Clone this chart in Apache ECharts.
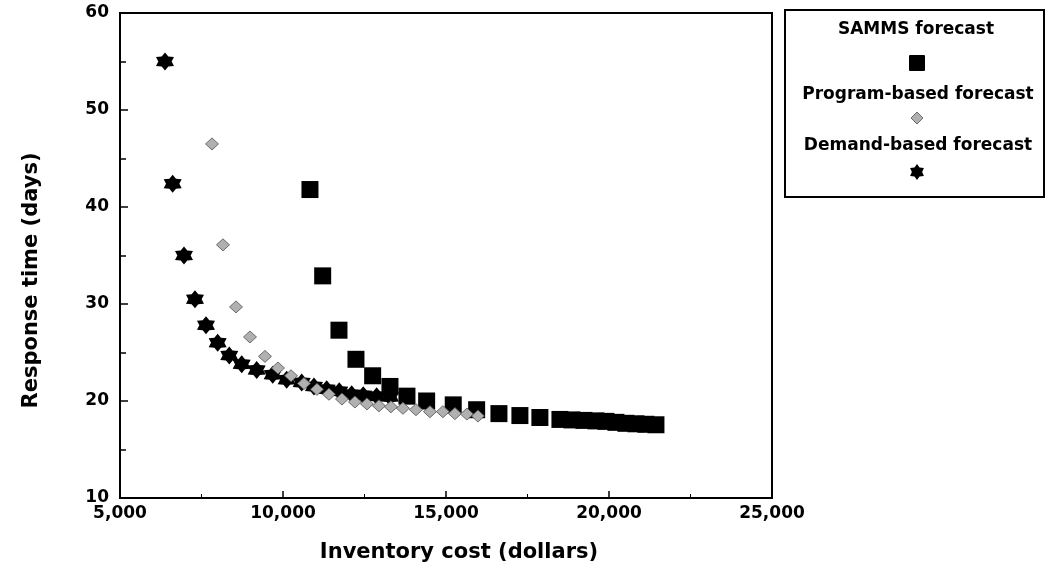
<!DOCTYPE html>
<html>
<head>
<meta charset="utf-8">
<script src="https://cdn.jsdelivr.net/npm/echarts@6/dist/echarts.min.js"></script>
<style>html,body{margin:0;padding:0;background:#fff;}#c{width:1047px;height:577px;}</style>
</head>
<body>
<div id="c"></div>
<script>
// ---- data (inventory cost in dollars, response time in days) ----
var sammsCost = [10827, 11217, 11717, 12238, 12750, 13281, 13802, 14406, 15222, 15940, 16624, 17267, 17880, 18495, 18863, 19231, 19599, 19906, 20212, 20519, 20826, 21133, 21440];
var sammsDays = [41.8, 32.9, 27.3, 24.3, 22.6, 21.5, 20.5, 20.0, 19.6, 19.1, 18.7, 18.5, 18.3, 18.1, 18.05, 18.0, 17.95, 17.9, 17.8, 17.7, 17.65, 17.6, 17.55];
var programCost = [7822, 8159, 8558, 8987, 9447, 9846, 10245, 10643, 11042, 11410, 11809, 12207, 12575, 12943, 13311, 13679, 14078, 14508, 14906, 15274, 15642, 15980];
var programDays = [46.5, 36.1, 29.7, 26.6, 24.6, 23.4, 22.6, 21.8, 21.2, 20.7, 20.2, 19.9, 19.7, 19.5, 19.4, 19.25, 19.1, 18.9, 18.9, 18.7, 18.65, 18.45];
var demandCost = [6380, 6616, 6963, 7300, 7638, 7996, 8352, 8733, 9193, 9684, 10113, 10573, 10950, 11340, 11726, 12106, 12462, 12873, 13280];
var demandDays = [55.0, 42.4, 35.0, 30.5, 27.8, 26.0, 24.7, 23.8, 23.2, 22.7, 22.2, 21.9, 21.5, 21.2, 21.0, 20.7, 20.6, 20.5, 20.4];
var seriesNames = ['SAMMS forecast', 'Program-based forecast', 'Demand-based forecast'];
var xTicks = [5000, 10000, 15000, 20000, 25000];
var yTicks = [10, 20, 30, 40, 50, 60];

function pairs(xs, ys) { return xs.map(function (x, i) { return [x, ys[i]]; }); }
function starPoints(cx, cy, R, ratio) {
  var pts = [];
  for (var k = 0; k < 12; k++) {
    var a = (-90 + 30 * k) * Math.PI / 180;
    var r = (k % 2 === 0) ? R : R * ratio;
    pts.push([cx + r * Math.cos(a), cy + r * Math.sin(a)]);
  }
  return pts;
}
var STAR = 'path://M' + starPoints(0, 0, 10, 0.64).map(function (p) { return p[0].toFixed(3) + ' ' + p[1].toFixed(3); }).join(' L') + ' Z';
var FONT = '"DejaVu Sans", sans-serif';
var diamondStyle = { color: '#b0b0b0', borderColor: '#505050', borderWidth: 0.8, opacity: 1 };

var chart = echarts.init(document.getElementById('c'), null, { renderer: 'canvas' });
chart.setOption({
  backgroundColor: '#fff',
  animation: false,
  grid: { left: 120, right: 275, top: 13, bottom: 79, show: true, borderColor: '#000', borderWidth: 2 },
  xAxis: {
    type: 'value', min: xTicks[0], max: xTicks[xTicks.length - 1], interval: 5000,
    name: 'Inventory cost (dollars)', nameLocation: 'middle', nameGap: 44,
    nameTextStyle: { fontFamily: FONT, fontWeight: 'bold', fontSize: 21, color: '#000', padding: [0, 0, 0, 26] },
    axisLine: { show: true, lineStyle: { color: '#000', width: 2 } },
    axisTick: { show: true, inside: true, length: 7, lineStyle: { color: '#000', width: 1.5 } },
    minorTick: { show: true, splitNumber: 2, length: 4, lineStyle: { color: '#000', width: 1 } },
    splitLine: { show: false },
    axisLabel: { fontFamily: FONT, fontWeight: 'bold', fontSize: 17, color: '#000', margin: 7,
      formatter: function (v) { return v.toLocaleString('en-US'); } }
  },
  yAxis: {
    type: 'value', min: yTicks[0], max: yTicks[yTicks.length - 1], interval: 10,
    name: 'Response time (days)', nameLocation: 'middle', nameGap: 78,
    nameTextStyle: { fontFamily: FONT, fontWeight: 'bold', fontSize: 21, color: '#000', padding: [0, 50, 0, 0] },
    axisLine: { show: true, lineStyle: { color: '#000', width: 2 } },
    axisTick: { show: true, inside: true, length: 8, lineStyle: { color: '#000', width: 1.5 } },
    minorTick: { show: true, splitNumber: 2, length: 6, lineStyle: { color: '#000', width: 1.5 } },
    splitLine: { show: false },
    axisLabel: { fontFamily: FONT, fontWeight: 'bold', fontSize: 17, color: '#000', margin: 11 }
  },
  series: [
    { name: seriesNames[0], type: 'scatter', data: pairs(sammsCost, sammsDays), symbol: 'rect', symbolSize: 17,
      itemStyle: { color: '#000', opacity: 1 }, z: 2 },
    { name: seriesNames[2], type: 'scatter', data: pairs(demandCost, demandDays), symbol: STAR, symbolSize: 18,
      itemStyle: { color: '#000', opacity: 1 }, z: 3 },
    { name: seriesNames[1], type: 'scatter', data: pairs(programCost, programDays), symbol: 'diamond', symbolSize: [13, 12],
      itemStyle: diamondStyle, z: 4 }
  ],
  graphic: [
    { type: 'rect', shape: { x: 785, y: 10, width: 259, height: 187 }, style: { fill: '#fff', stroke: '#000', lineWidth: 2 } },
    { type: 'text', x: 916, y: 30, style: { text: seriesNames[0], font: 'bold 17px ' + FONT, fill: '#000', align: 'center', verticalAlign: 'middle' } },
    { type: 'rect', shape: { x: 909, y: 55, width: 16, height: 16, r: 1 }, style: { fill: '#000' } },
    { type: 'text', x: 918, y: 95, style: { text: seriesNames[1], font: 'bold 17px ' + FONT, fill: '#000', align: 'center', verticalAlign: 'middle' } },
    { type: 'polygon', shape: { points: [[917, 112], [923, 118], [917, 124], [911, 118]] }, style: { fill: '#b0b0b0', stroke: '#505050', lineWidth: 0.8 } },
    { type: 'text', x: 918, y: 146, style: { text: seriesNames[2], font: 'bold 17px ' + FONT, fill: '#000', align: 'center', verticalAlign: 'middle' } },
    { type: 'polygon', shape: { points: starPoints(917, 172, 8, 0.64) }, style: { fill: '#000' } }
  ]
});
</script>
</body>
</html>
